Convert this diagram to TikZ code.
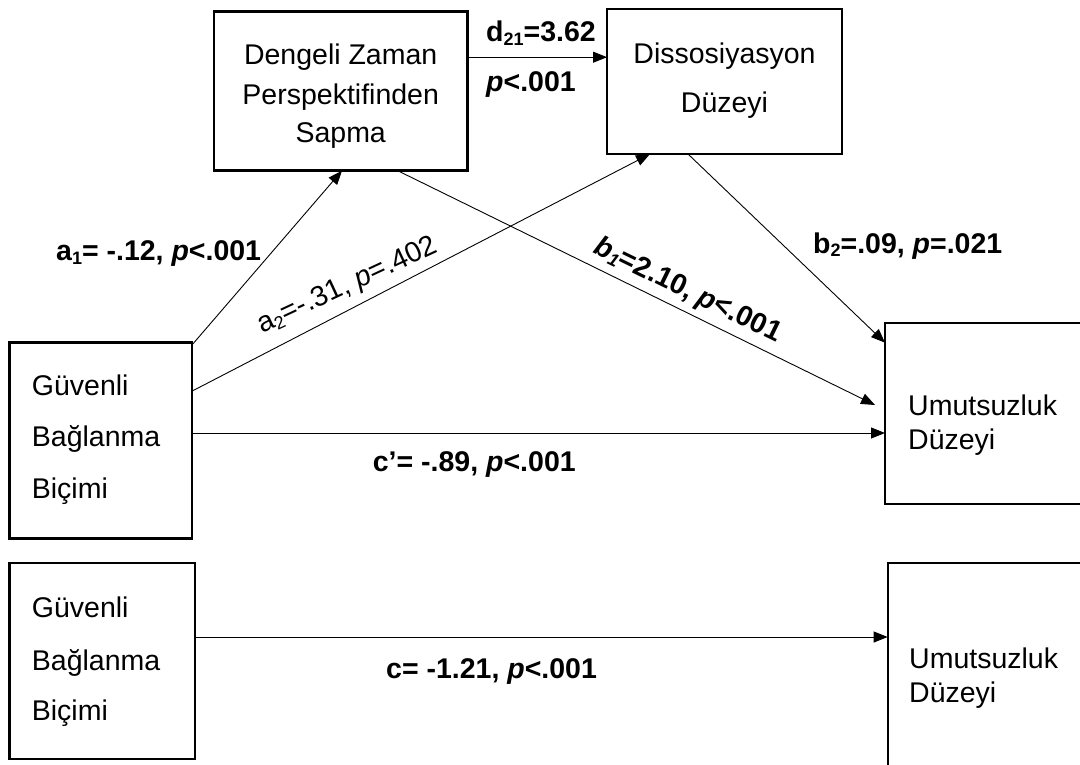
\documentclass[tikz,border=0pt]{standalone}
\usepackage{fontspec}
\setmainfont{Liberation Sans}
\usetikzlibrary{arrows.meta}
\newcommand\mysub[1]{\raisebox{-0.12em}{\fontsize{18}{18}\selectfont #1}}
\newcommand\pit{\textit{p}}
\begin{document}
\begin{tikzpicture}[x=1pt,y=-1pt,
  box/.style={draw, line width=2.4pt, rectangle, inner sep=0pt, outer sep=0pt, anchor=north west},
  arr/.style={line width=0.9pt, -{Triangle[length=14pt,width=11pt]}},
  txt/.style={inner sep=0pt, font=\fontsize{28.5}{34}\selectfont},
  lab/.style={inner sep=0pt, anchor=base west, font=\fontsize{28.5}{34}\selectfont\bfseries},
  rlab/.style={inner sep=0pt, anchor=base west, font=\fontsize{28.5}{34}\selectfont}]
\useasboundingbox[fill=white] (0,0) rectangle (1080,765);

% boxes
\node[box, minimum width=253.4pt, minimum height=159pt] (dz) at (214,11.7) {};
\node[box, minimum width=235pt, minimum height=144.7pt] (ds) at (607,9.3) {};
\node[box, minimum width=182.4pt, minimum height=196pt] (gb) at (9.3,342.3) {};
\node[box, minimum width=230pt, minimum height=181.3pt] (ud) at (885,322.7) {};
\node[box, minimum width=185.4pt, minimum height=196pt] (gb2) at (9.6,563) {};
\node[box, minimum width=230pt, minimum height=240pt] (ud2) at (887.7,562.7) {};

% box texts
\node[txt, anchor=base] (dzt1) at (340.7,65) {Dengeli Zaman};
\node[txt, anchor=base] (dzt2) at (340.7,105) {Perspektifinden};
\node[txt, anchor=base] (dzt3) at (340.7,143) {Sapma};
\node[txt, anchor=base] (dst1) at (724.5,64) {Dissosiyasyon};
\node[txt, anchor=base] (dst2) at (724.5,113) {Düzeyi};
\node[txt, anchor=base west] (gbt1) at (31.7,395.7) {Güvenli};
\node[txt, anchor=base west] (gbt2) at (31.7,446.7) {Bağlanma};
\node[txt, anchor=base west] (gbt3) at (31.7,498) {Biçimi};
\node[txt, anchor=base west] (udt1) at (908,415) {Umutsuzluk};
\node[txt, anchor=base west] (udt2) at (908,449) {Düzeyi};
\node[txt, anchor=base west] (gb2t1) at (31.7,617) {Güvenli};
\node[txt, anchor=base west] (gb2t2) at (31.7,670.5) {Bağlanma};
\node[txt, anchor=base west] (gb2t3) at (31.7,720.5) {Biçimi};
\node[txt, anchor=base west] (ud2t1) at (909,668) {Umutsuzluk};
\node[txt, anchor=base west] (ud2t2) at (909,702) {Düzeyi};

% connectors
\draw[arr] ([yshift=34pt]dz.east) coordinate (d0) -- (d0 -| ds.west);
\draw[arr] ([yshift=-3pt]gb.north east) -- ([xshift=1.3pt]dz.south);
\draw[arr] ([yshift=-49pt]gb.north east) -- ([xshift=-74.5pt]ds.south);
\draw[arr] ([xshift=57pt]dz.south) -- ([xshift=-10pt,yshift=-82.3pt]ud.north west);
\draw[arr] ([xshift=-36.5pt]ds.south) -- ([yshift=-20pt]ud.north west);
\draw[arr] ([yshift=-90.7pt]gb.north east) coordinate (c0) -- (c0 -| ud.west);
\draw[arr] ([yshift=-74pt]gb2.north east) coordinate (c1) -- (c1 -| ud2.west);

% labels
\node[lab] (ld1) at (486,41.7) {d\mysub{21}=3.62};
\node[lab] (ld2) at (486,91.7) {\pit<.001};
\node[lab] (la1) at (56,261) {a\mysub{1}= -.12, \pit<.001};
\node[rlab, rotate=25] (la2) at (262,334) {a\mysub{2}=-.31, \pit=.402};
\node[lab, rotate=-26] (lb1) at (592,252.7) {\textit{b\mysub{1}}=2.10, \pit<.001};
\node[lab] (lb2) at (813,253) {b\mysub{2}=.09, \pit=.021};
\node[lab] (lc1) at (372.7,471.7) {c’= -.89, \pit<.001};
\node[lab] (lc2) at (386,678) {c= -1.21, \pit<.001};
\end{tikzpicture}
\end{document}
